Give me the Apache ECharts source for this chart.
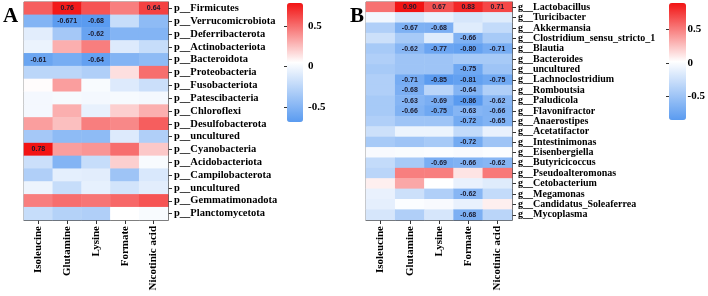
<!DOCTYPE html>
<html>
<head>
<meta charset="utf-8">
<script src="https://cdn.jsdelivr.net/npm/echarts@6/dist/echarts.min.js"></script>
<style>
  html, body { margin: 0; padding: 0; background: #fff; }
  #main { width: 708px; height: 296px; }
</style>
</head>
<body>
<div id="main"></div>
<script>
// metabolites (columns, both panels)
var metabolites = ['Isoleucine', 'Glutamine', 'Lysine', 'Formate', 'Nicotinic acid']

// panel A - phylum level
var phylaA = ['p__Firmicutes', 'p__Verrucomicrobiota', 'p__Deferribacterota', 'p__Actinobacteriota',
  'p__Bacteroidota', 'p__Proteobacteria', 'p__Fusobacteriota', 'p__Patescibacteria', 'p__Chloroflexi',
  'p__Desulfobacterota', 'p__uncultured', 'p__Cyanobacteria', 'p__Acidobacteriota', 'p__Campilobacterota',
  'p__uncultured', 'p__Gemmatimonadota', 'p__Planctomycetota']
var valuesA = [
  [0.55, 0.76, 0.58, 0.45, 0.64],
  [-0.5, -0.671, -0.68, -0.2, -0.45],
  [-0.08, -0.35, -0.62, -0.5, -0.5],
  [-0.04, 0.3, 0.45, -0.1, -0.2],
  [-0.61, -0.55, -0.64, -0.5, -0.45],
  [-0.25, -0.25, -0.3, 0.15, 0.5],
  [0.06, 0.35, 0.02, -0.1, -0.18],
  [0, 0.01, 0, 0.01, 0],
  [0, 0.3, -0.05, 0.2, 0.3],
  [0.35, 0.25, 0.45, 0.42, 0.55],
  [-0.35, -0.45, -0.45, -0.1, -0.3],
  [0.78, 0.35, 0.38, 0.5, 0.22],
  [-0.18, -0.5, -0.2, 0.2, 0.02],
  [-0.3, -0.07, -0.08, -0.38, -0.12],
  [-0.03, -0.2, -0.06, -0.15, -0.08],
  [0.45, 0.5, 0.48, 0.52, 0.58],
  [-0.2, -0.28, -0.3, 0.05, 0.02]
]
var rangeA = [-0.68, 0.78]

// panel B - genus level
var generaB = ['g__Lactobacillus', 'g__Turicibacter', 'g__Akkermansia', 'g__Clostridium_sensu_stricto_1',
  'g__Blautia', 'g__Bacteroides', 'g__uncultured', 'g__Lachnoclostridium', 'g__Romboutsia', 'g__Paludicola',
  'g__Flavonifractor', 'g__Anaerostipes', 'g__Acetatifactor', 'g__Intestinimonas', 'g__Eisenbergiella',
  'g__Butyricicoccus', 'g__Pseudoalteromonas', 'g__Cetobacterium', 'g__Megamonas',
  'g__Candidatus_Soleaferrea', 'g__Mycoplasma']
var valuesB = [
  [0.55, 0.90, 0.67, 0.83, 0.71],
  [-0.05, -0.2, -0.1, -0.2, -0.15],
  [-0.4, -0.67, -0.68, -0.15, -0.3],
  [-0.25, -0.45, -0.15, -0.66, -0.45],
  [-0.45, -0.62, -0.77, -0.80, -0.71],
  [-0.4, -0.5, -0.5, -0.45, -0.45],
  [-0.45, -0.5, -0.5, -0.75, -0.5],
  [-0.4, -0.71, -0.85, -0.81, -0.75],
  [-0.4, -0.68, -0.35, -0.64, -0.4],
  [-0.45, -0.63, -0.69, -0.86, -0.62],
  [-0.45, -0.66, -0.75, -0.63, -0.66],
  [-0.4, -0.5, -0.5, -0.72, -0.65],
  [-0.25, -0.08, -0.08, -0.3, -0.1],
  [-0.45, -0.5, -0.45, -0.72, -0.5],
  [-0.02, -0.01, 0, -0.02, 0],
  [-0.3, -0.45, -0.69, -0.66, -0.62],
  [-0.35, 0.5, 0.5, 0.12, 0.52],
  [0.08, 0.35, 0.02, -0.1, -0.15],
  [-0.1, -0.25, -0.4, -0.62, -0.3],
  [-0.12, 0, -0.02, -0.1, 0.08],
  [-0.2, -0.4, -0.2, -0.68, -0.35]
]
var rangeB = [-0.86, 0.90]

var colorbarTicks = [-0.5, 0, 0.5]

function toCells(rows) {
  var out = []
  rows.forEach(function (row, y) {
    row.forEach(function (v, x) { out.push([x, y, v]) })
  })
  return out
}

function cellLabel(p) {
  var v = p.value[2]
  if (Math.abs(v) < 0.6) return ''
  // keep 3 decimals where the source printed them
  return Math.abs(v * 100 - Math.round(v * 100)) > 1e-6 ? String(v) : v.toFixed(2)
}

var serif = 'Liberation Serif'
var rampColors = ['#5a9bf0', '#ffffff', '#f21414']

var myChart = echarts.init(document.getElementById('main'))

function heatGrid(left, width) {
  return { left: left, width: width, top: 2, height: 218, show: true, borderColor: '#777', borderWidth: 1 }
}
function catX(gridIndex) {
  return {
    type: 'category', gridIndex: gridIndex, data: metabolites,
    axisLine: { show: true, lineStyle: { color: '#555' } },
    axisTick: { show: true, length: 4, alignWithLabel: true, interval: 0, lineStyle: { color: '#333' } },
    axisLabel: { rotate: 90, margin: 6, interval: 0, fontFamily: serif, fontWeight: 'bold', fontSize: 11, color: '#000' },
    splitLine: { show: false }
  }
}
function catY(gridIndex, names, size) {
  return {
    type: 'category', gridIndex: gridIndex, data: names, inverse: true, position: 'right',
    axisLine: { show: true, lineStyle: { color: '#555' } },
    axisTick: { show: true, length: 4, alignWithLabel: true, interval: 0, lineStyle: { color: '#333' } },
    axisLabel: { margin: 6, interval: 0, fontFamily: serif, fontWeight: 'bold', fontSize: size, color: '#000' },
    splitLine: { show: false }
  }
}
function barAxisY(gridIndex, range) {
  return {
    type: 'value', gridIndex: gridIndex, min: range[0], max: range[1], position: 'right',
    axisLine: { show: false },
    axisTick: { show: true, inside: true, length: 3, customValues: colorbarTicks, lineStyle: { color: '#333' } },
    axisLabel: { margin: 5, customValues: colorbarTicks, fontFamily: serif, fontWeight: 'bold', fontSize: 11, color: '#000' },
    splitLine: { show: false }
  }
}
function hiddenX(gridIndex) {
  return { type: 'value', gridIndex: gridIndex, show: false, min: 0, max: 1 }
}

var option = {
  animation: false,
  grid: [
    heatGrid(24, 144),
    heatGrid(366, 146),
    { left: 287, width: 16, top: 3, height: 119 },
    { left: 669, width: 17, top: 3, height: 117 }
  ],
  xAxis: [catX(0), catX(1), hiddenX(2), hiddenX(3)],
  yAxis: [catY(0, phylaA, 10.5), catY(1, generaB, 10), barAxisY(2, rangeA), barAxisY(3, rangeB)],
  visualMap: [
    {
      type: 'continuous', seriesIndex: 0, min: rangeA[0], max: rangeA[1],
      left: 287, top: 3, itemWidth: 16, itemHeight: 119, padding: 0,
      calculable: false, realtime: false, hoverLink: false,
      inRange: { color: rampColors }
    },
    {
      type: 'continuous', seriesIndex: 1, min: rangeB[0], max: rangeB[1],
      left: 669, top: 3, itemWidth: 17, itemHeight: 117, padding: 0,
      calculable: false, realtime: false, hoverLink: false,
      inRange: { color: rampColors }
    }
  ],
  graphic: [
    { type: 'text', left: 3, top: 6, style: { text: 'A', font: 'bold 21px "Liberation Serif"', fill: '#000' } },
    { type: 'text', left: 350, top: 6, style: { text: 'B', font: 'bold 21px "Liberation Serif"', fill: '#000' } }
  ],
  series: [
    {
      name: 'A', type: 'heatmap', xAxisIndex: 0, yAxisIndex: 0,
      data: toCells(valuesA),
      label: { show: true, formatter: cellLabel, fontFamily: 'Liberation Sans', fontWeight: 'bold', fontSize: 7, color: '#1a1a2e' },
      emphasis: { disabled: true }
    },
    {
      name: 'B', type: 'heatmap', xAxisIndex: 1, yAxisIndex: 1,
      data: toCells(valuesB),
      label: { show: true, formatter: cellLabel, fontFamily: 'Liberation Sans', fontWeight: 'bold', fontSize: 7, color: '#1a1a2e' },
      emphasis: { disabled: true }
    }
  ]
}

option && myChart.setOption(option)
</script>
</body>
</html>
